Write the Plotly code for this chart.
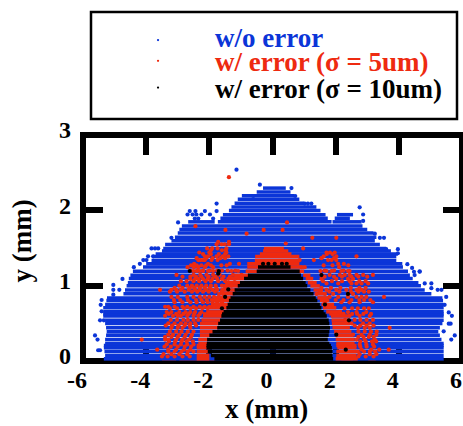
import plotly.graph_objects as go

FONT = "Liberation Serif"
BLUE = "#0b35d8"
RED = "#ee2a10"
BLACK = "#000000"

row_y = [-.02,.03,.0725,.125,.1775,.205,.2325,.287,.3415,.3885,.443,.4975,.5425,.5975,.625,.6525,.7075,.7495,
         .8045,.8375,.8925,.9425,.9975,1.0395,1.0945,1.1375,1.1925,1.2475,1.29,1.3325,1.3875,1.42,1.46,1.4925,
         1.5475,1.595,1.6425,1.6975,1.745,1.7925,1.8475,1.895,1.9425,1.9975,2.045,2.0925,2.1475,2.195,2.245,2.295]
blue_left = [-5.34,-5.34,-5.3,-5.32,-5.34,-5.34,-5.3,-5.3,-5.27,-5.25,-5.27,-5.3,-5.3,-5.36,-5.36,-5.36,-5.36,-5.3,
             -5.26,-5.24,-4.72,-4.67,-4.62,-4.58,-4.55,-4.5,-4.42,-4.1,-4.0,-3.83,-3.78,-3.7,-3.5,-3.46,
             -3.4,-3.2,-3.09,-3.0,-2.95,-2.87,-1.73,-1.65,-1.57,-1.38,-1.3,-1.2,-1.1,-.97,-.5,-.3]
blue_right = [5.42,5.42,5.42,5.42,5.42,5.42,5.42,5.35,5.3,5.25,5.3,5.38,5.42,5.42,5.42,5.42,5.42,5.42,
              5.4,5.38,5.03,4.82,4.7,4.62,4.44,4.35,4.29,4.13,4.11,3.92,3.92,3.97,3.75,3.6,
              3.4,3.24,3.29,3.2,3.0,2.85,1.87,1.75,1.68,1.52,1.39,1.0,.85,.7,.57,.42]

black_y = row_y[:28]
black_left = [-1.84,-1.84,-1.95,-2.05,-2.09,-2.09,-2.08,-2.07,-2.0,-1.9,-1.75,-1.72,-1.66,-1.62,-1.6,-1.55,-1.46,-1.42,
              -1.38,-1.33,-1.26,-1.2,-1.1,-1.03,-.9,-.78,-.5,-.46]
black_right = [1.92,1.92,1.9,1.9,1.88,1.85,1.8,1.75,1.78,1.8,1.82,1.8,1.78,1.72,1.68,1.62,1.55,1.5,
               1.42,1.37,1.3,1.2,1.1,1.05,.97,.9,.86,.57]

blue_seg_y = [1.8475,1.8475,1.895,1.9425]
blue_seg_x0 = [-2.67,1.9,1.97,2.04]
blue_seg_x1 = [-1.83,2.82,2.45,2.55]

blue_dot_x = [-1.14,-1.77,-1.77,-2.62,-2.44,-2.14,-2.69,-2.53,-2.41,-2.25,-1.98,-2.46,-2.35,-1.88,-2.99,-3.2,
              -4.39,-4.2,-4.09,-3.99,-3.94,-3.78,-3.83,-3.72,-3.62,-4.75,-5.04,-5.04,-4.85,-5.04,-5.41,-5.44,-5.41,
              -5.46,-5.34,-5.62,-5.54,-5.52,-5.46,4.5,4.66,4.5,4.82,5.03,5.03,5.23,5.35,5.5,5.45,5.58,5.68,5.58,5.64,
              5.42,5.77,5.66,-.4,-.61,.6,.72,1.02,1.12,1.23,2.76,2.87,2.87,3.4,3.53,3.24,3.6,3.97,3.97,4.27,4.42,4.48,4.66]
blue_dot_y = [2.54,2.09,1.99,1.99,1.99,1.99,1.945,1.945,1.945,1.945,1.945,1.89,1.89,1.89,1.84,1.635,
              1.245,1.29,1.34,1.34,1.39,1.39,1.495,1.495,1.495,1.09,1.01,.945,.945,.88,.81,.746,.66,
              .54,.54,.34,.284,.143,.143,1.14,1.19,1.03,1.03,1.03,.967,.945,.945,.85,.746,.645,.6,.495,.495,
              .394,.34,.284,2.34,2.19,2.296,2.19,2.09,2.09,2.09,2.04,1.945,1.86,1.635,1.635,1.69,1.485,1.485,1.43,1.285,1.235,1.185,1.185]

red_seg_y = [-.02,-.02,-.02,-.02,.03,.03,.0725,.0725,.125,.125,.1775,.1775,.205,.205,.2325,.2325,.287,.287,.3415,.3415,
             .3885,.3885,.443,.443,.4975,.4975,.5425,.5425,.5975,.5975,.625,.625,.6525,.6525,.7075,.7075,.7495,.7495,
             .8045,.8045,.8375,.8375,.8925,.8925,.9425,.9425,.9975,.9975,1.0395,1.0395,1.0945,1.0945,1.1375,1.1375,
             1.1925,1.2475,1.29,1.3325,1.3875,1.42,1.46,1.4925]
red_seg_x0 = [-3.5,-2.95,2.18,3.03,-2.4,2.0,-2.4,2.02,-2.4,2.02,-2.4,2.05,-2.4,2.02,-2.35,2.02,-2.35,2.0,-2.3,2.0,
              -2.3,1.95,-2.3,1.9,-2.3,1.88,-2.25,1.87,-2.2,1.85,-2.2,1.8,-2.1,1.7,-2.0,1.6,-1.95,1.55,
              -1.9,1.5,-1.85,1.42,-1.75,1.38,-1.65,1.3,-1.55,1.2,-1.5,1.12,-1.35,1.05,-1.2,.97,
              -.85,-.8,-.8,-.56,-.55,-.4,-.3,-.27]
red_seg_x1 = [-3.05,-1.8,2.55,3.27,-2.0,2.7,-2.0,2.66,-2.0,2.66,-2.0,2.66,-2.05,2.66,-2.05,2.6,-2.05,2.6,-1.95,2.55,
              -1.85,2.5,-1.7,2.45,-1.7,2.45,-1.65,2.45,-1.6,2.4,-1.55,2.3,-1.5,2.2,-1.4,2.02,-1.4,1.95,
              -1.35,1.8,-1.3,1.76,-1.2,1.7,-1.15,1.6,-1.05,1.5,-1.0,1.4,-.9,1.29,-.75,1.2,
              1.0,.9,.85,.85,.85,.6,.5,.36]

red_rows_y = [2.44,1.84,1.79,1.74,1.69,1.635,1.58,1.56,1.55,1.495,1.44,1.39,1.34,1.29,1.245,1.195,1.143,1.09,1.03,1.0,
              .945,.89,.85,.78,.72,.65,.6,.5,.44,.35,.285,.22,.15,.09,
              1.2,1.27,1.365,1.42,1.47,1.12,1.06,.97,.92,.81,.7,.625,.545,.47,.39,.32,.26,.19,.125,.06]
red_rows_x = [
    [-1.38],
    [.46],
    [-2.44],
    [-1.49,-.28,.32],
    [-.82],
    [1.26,2.02],
    [-1.72,-1.38],
    [.42],
    [-1.77,-1.61,-1.51,-1.38],
    [-2.07,-1.91,-1.74,-1.46,.97],
    [-2.32,-2.0,-1.46,1.71,1.82,1.97],
    [-2.14,-2.04,-1.77,-1.58,-1.4,1.62,2.02,2.66],
    [-2.35,-2.28,-2.2,-2.14,-1.93,-1.74,.86,1.31,1.76,1.87,2.02],
    [-2.48,-2.04,-1.35,-1.06,2.08,2.26],
    [-2.69,-2.49,-2.35,-2.14,-1.88,.92,1.02,2.11],
    [-2.5,-2.4,-2.3,-2.2,-2.04,-1.88,-1.3,-1.09,1.52,1.71,1.87,2.18,2.39,2.44],
    [-3.04,-2.5,-2.29,-2.09,-1.88,-1.67,-1.25,-.98,1.55,1.81,2.13,2.29,2.44,2.66,2.87,3.18],
    [-2.6,-2.45,-2.35,-2.2,-2.05,-1.9,-1.75,-1.6,-1.4,-1.2,1.55,2.02,2.39,2.55],
    [1.71,2.08,2.5,2.66,2.82,3.03],
    [-2.95,-2.7,-2.55,-2.4,-2.25,-2.1,-1.95,-1.8,-1.6,-1.45,-1.3],
    [-3.56,-3.2,-3.05,-2.9,-2.65,-2.45,-2.3,-2.1,-1.9,-1.75,-1.55,-1.4,1.71,2.02,2.34,2.66,2.82],
    [1.39,1.66,1.92,2.39,2.55],
    [-3.2,-3.0,-2.7,-2.5,-2.3,-2.15,-2.0,-1.85,-1.7,-1.55,1.81,2.08,2.39,2.66,2.82,2.97,3.53],
    [-3.1,-2.85,-2.6,-2.4,-2.2,-2.05,-1.9,-1.75,-1.6,1.66,2.18,2.44,2.76,3.18],
    [-3.4,-3.3,-3.1,-2.85,-2.7,-2.5,-2.3,-2.15,-2.0,-1.85],
    [-3.35,-3.2,-2.95,-2.75,-2.6,-2.45,-2.25,2.13,2.39,2.66,2.97],
    [-3.4,-3.15,-3.0,-2.9,-2.7,-2.5,-2.35,2.44,2.76,3.08],
    [-3.3,-3.1,-2.9,-2.75,-2.6,-2.45,2.5,2.87,3.08],
    [-3.2,-3.0,-2.85,-2.6,2.71,2.92,3.08,3.71],
    [-3.3,-3.15,-2.95,-2.75,-2.55,2.55,2.82,3.08,3.29],
    [-4.14,-3.4,-3.3,-3.05,-2.85,-2.65,2.66,2.92,3.24],
    [-3.35,-3.1,-2.9,-2.7,-2.5,2.76,2.97,3.18],
    [-3.65,-3.3,-3.05,-2.8,-2.6,2.82,3.13,3.38,3.68],
    [-3.45,-3.2,-2.95,-2.7,2.76,3.08,3.29],
    [-2.6,-2.38,-2.2,-1.98,-1.75,-1.6,-1.42,-1.18,1.65,1.95,2.25],
    [-2.58,-2.4,-2.25,-2.1,-1.95,-1.62,-1.45,1.62,1.9,2.4],
    [-2.4,-2.1,-1.9,-1.65,-1.5,1.55,1.95],
    [-2.2,-1.95,-1.7,-1.5,1.72,1.9],
    [-1.95,-1.6,-1.48],
    [-2.85,-2.6,-2.42,-2.25,-2.02,-1.8,-1.55,-1.35,-1.15,1.65,1.95,2.2,2.5,2.72,3.0],
    [-2.9,-2.72,-2.5,-2.32,-2.12,-1.95,-1.72,-1.5,1.6,1.88,2.2,2.45,2.75,2.95],
    [-3.1,-2.85,-2.62,-2.48,-2.3,-2.15,-1.98,-1.78,-1.5,1.55,1.85,2.15,2.48,2.75,2.95],
    [-3.25,-3.02,-2.78,-2.55,-2.38,-2.2,-2.02,-1.82,-1.6,1.5,1.8,2.12,2.48,2.72,2.9,3.05],
    [-3.12,-2.92,-2.68,-2.42,-2.25,-2.08,-1.92,-1.75,2.0,2.25,2.5,2.75,2.9,3.1],
    [-3.25,-3.02,-2.8,-2.6,-2.42,-2.22,-2.05,2.28,2.52,2.7,2.9,3.05],
    [-3.28,-3.05,-2.82,-2.65,-2.48,-2.3,2.25,2.52,2.68,2.88,3.12],
    [-3.22,-3.02,-2.82,-2.68,-2.5,-2.35,2.3,2.6,2.78,2.98,3.18],
    [-3.38,-3.18,-2.98,-2.78,-2.62,-2.42,2.6,2.78,2.98,3.2],
    [-3.25,-3.05,-2.88,-2.68,-2.5,2.72,2.92,3.12,3.3],
    [-3.4,-3.2,-3.0,-2.78,-2.58,2.72,2.88,3.05,3.2],
    [-3.28,-3.08,-2.88,-2.72,-2.52,2.78,2.95,3.15,3.28],
    [-3.42,-3.22,-3.0,-2.78,-2.58,2.78,2.98,3.22],
    [-3.3,-3.1,-2.88,-2.68,-2.5,2.7,2.9,3.08,3.25],
    [-3.5,-3.32,-3.1,-2.85,-2.62,2.72,2.95,3.2],
]

black_dot_x = [-2.62,-1.7,-1.72,-1.4,-1.5,-1.6,1.55,2.39,1.66,2.42,2.02,2.32,-.3,-.13,.07,.3,.45]
black_dot_y = [1.195,1.195,1.16,.95,.85,.7,1.14,.89,.75,.54,.35,.15,1.29,1.29,1.29,1.29,1.29]

legend_labels = ["w/o error", "w/ error (σ = 5um)", "w/ error (σ = 10um)"]
legend_colors = [BLUE, RED, BLACK]
legend_text_y = [1.428, 1.322, 1.205]
legend_dot_y = [1.42, 1.328, 1.21]
legend_dot_x = 0.198
legend_text_x = 0.343

x_ticks = [-6, -4, -2, 0, 2, 4, 6]
y_ticks = [0, 1, 2, 3]


def segs(ys, x0s, x1s):
    xs, yy = [], []
    for y, a, b in zip(ys, x0s, x1s):
        xs += [a, b, None]
        yy += [y, y, None]
    return xs, yy


def band(ys, x0s, x1s, color):
    xs, yy = segs(ys, x0s, x1s)
    return go.Scatter(x=xs, y=yy, mode="lines", line=dict(color=color, width=3.5), cliponaxis=False,
                      hoverinfo="skip", showlegend=False)


def dots(xs, ys, color, size=4.2):
    return go.Scatter(x=xs, y=ys, mode="markers", marker=dict(color=color, size=size), cliponaxis=False,
                      hoverinfo="skip", showlegend=False)


red_dot_x = [x for row in red_rows_x for x in row]
red_dot_y = [y for y, row in zip(red_rows_y, red_rows_x) for _ in row]

fig = go.Figure()
fig.add_trace(band(row_y, blue_left, blue_right, BLUE))
fig.add_trace(band(blue_seg_y, blue_seg_x0, blue_seg_x1, BLUE))
fig.add_trace(dots(blue_dot_x, blue_dot_y, BLUE))
fig.add_trace(band(red_seg_y, red_seg_x0, red_seg_x1, RED))
fig.add_trace(dots(red_dot_x, red_dot_y, RED))
fig.add_trace(band(black_y, black_left, black_right, BLACK))
fig.add_trace(dots(black_dot_x, black_dot_y, BLACK))

annos = [dict(x=legend_text_x, y=ty, xref="paper", yref="paper", text=t, showarrow=False, xanchor="left", yanchor="middle",
              font=dict(family=FONT, size=27, color=c, weight="bold"))
         for t, c, ty in zip(legend_labels, legend_colors, legend_text_y)]
annos.append(dict(x=-0.18, y=-0.2137, xref="x", yref="paper", text="x (mm)", showarrow=False, xanchor="center", yanchor="middle",
                  font=dict(family=FONT, size=27, color="black", weight="bold")))
annos.append(dict(x=-0.16, y=0.53, xref="paper", yref="paper", text="y (mm)", showarrow=False, textangle=-90,
                  xanchor="center", yanchor="middle",
                  font=dict(family=FONT, size=27, color="black", weight="bold")))

axis = dict(showgrid=False, zeroline=False, showline=False, ticks="inside", mirror="ticks",
            tickcolor="black", tickwidth=6, layer="below traces",
            tickfont=dict(family=FONT, size=24, color="black", weight="bold"), tickmode="array")

legend_dots = [dict(type="circle", xref="paper", yref="paper", x0=legend_dot_x - 0.003, x1=legend_dot_x + 0.003,
                    y0=dy - 0.005, y1=dy + 0.005, fillcolor=c, line=dict(width=0))
               for dy, c in zip(legend_dot_y, legend_colors)]

fig.update_layout(
    width=463, height=426, margin=dict(l=83, r=1, t=134.5, b=64.5), autosize=False,
    paper_bgcolor="white", plot_bgcolor="white", showlegend=False,
    xaxis=dict(range=[-6, 6], tickvals=x_ticks, ticktext=[str(v) for v in x_ticks], ticklen=19.5,
               ticklabelshift=-6, ticklabelstandoff=2, **axis),
    yaxis=dict(range=[0, 3], tickvals=y_ticks, ticktext=[str(v) for v in y_ticks], ticklen=19.5,
               ticklabelshift=-5, ticklabelstandoff=11, **axis),
    annotations=annos,
    shapes=[
        dict(type="rect", xref="paper", yref="paper", x0=0, x1=1, y0=0, y1=1, layer="below",
             line=dict(color="black", width=6)),
        dict(type="rect", xref="paper", yref="paper", x0=8 / 379, x1=374 / 379, y0=243 / 227, y1=350.5 / 227,
             line=dict(color="black", width=2.5)),
    ] + legend_dots,
)
fig.write_html("out.html", config=dict(displayModeBar=False),
               post_script="document.body.style.margin='0';document.documentElement.style.overflow='hidden';")
